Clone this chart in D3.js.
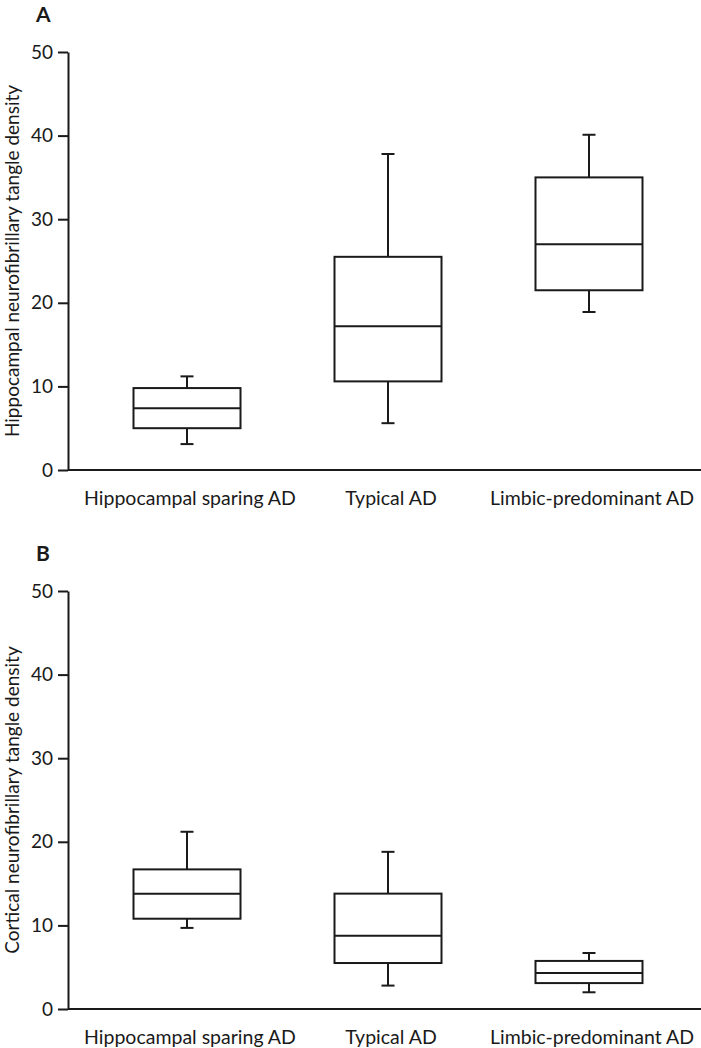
<!DOCTYPE html>
<meta charset="utf-8">
<head>
	<script src="https://d3js.org/d3.v7.min.js"></script>
	<style>
		body { margin: 0; background: #fff; }
		text { font-family: Lato, "Open Sans", sans-serif; fill: #1a1a1a; }
		.box rect, .box line { stroke: #1a1a1a; stroke-width: 2; fill: none; }
	</style>
</head>
<body>
<div id="chart"></div>
<script>
	'use strict';
	// groups on the x axis
	var groups = ["Hippocampal sparing AD", "Typical AD", "Limbic-predominant AD"];
	var yTicks = [0, 10, 20, 30, 40, 50];

	// panel A: hippocampal tangle density (whisker low, q1, median, q3, whisker high)
	var hippoLow    = [3.1, 5.6, 18.9];
	var hippoQ1     = [5.0, 10.6, 21.5];
	var hippoMedian = [7.4, 17.2, 27.0];
	var hippoQ3     = [9.8, 25.5, 35.0];
	var hippoHigh   = [11.2, 37.8, 40.1];

	// panel B: cortical tangle density
	var cortLow    = [9.7, 2.8, 2.0];
	var cortQ1     = [10.8, 5.5, 3.1];
	var cortMedian = [13.8, 8.75, 4.3];
	var cortQ3     = [16.7, 13.8, 5.75];
	var cortHigh   = [21.2, 18.8, 6.7];

	var panels = [
		{ label: "A", title: "Hippocampal neurofibrillary tangle density", top: 0,
		  low: hippoLow, q1: hippoQ1, med: hippoMedian, q3: hippoQ3, high: hippoHigh },
		{ label: "B", title: "Cortical neurofibrillary tangle density", top: 539,
		  low: cortLow, q1: cortQ1, med: cortMedian, q3: cortQ3, high: cortHigh }
	];

	var W = 701, H = 1048;
	var margin = { left: 68, top: 52 };
	var innerW = W - margin.left;
	var innerH = 418;
	var boxW = 107, capW = 13;

	var svg = d3.select("#chart").append("svg")
		.attr("width", W).attr("height", H);

	var x = d3.scalePoint().domain(groups).range([119, 521]);
	var y = d3.scaleLinear().domain([0, 50]).range([innerH, 0]);

	panels.forEach(function(p) {
		var g = svg.append("g")
			.attr("transform", "translate(" + margin.left + "," + (p.top + margin.top) + ")");

		// panel letter
		svg.append("text")
			.attr("x", 36).attr("y", p.top + 21.5)
			.style("font-size", "21px").style("font-weight", "bold")
			.text(p.label);

		// y axis
		var yAxis = g.append("g")
			.call(d3.axisLeft(y).tickValues(yTicks).tickSize(10).tickPadding(5).tickSizeOuter(0));
		yAxis.selectAll("path, line").attr("stroke", "#1a1a1a").attr("stroke-width", 2);
		yAxis.selectAll("text").style("font-size", "19px").style("font-family", "Lato, sans-serif").attr("fill", "#1a1a1a");

		// x axis line
		g.append("line")
			.attr("x1", 0).attr("x2", innerW)
			.attr("y1", innerH).attr("y2", innerH)
			.attr("stroke", "#1a1a1a").attr("stroke-width", 2);

		// x labels
		g.selectAll(".xlab").data(groups).enter().append("text")
			.attr("class", "xlab")
			.attr("x", function(d) { return x(d) + 3; })
			.attr("y", innerH + 35)
			.attr("text-anchor", "middle")
			.style("font-size", "19.5px")
			.text(function(d) { return d; });

		// y title
		g.append("text")
			.attr("transform", "translate(" + (-49) + "," + (innerH / 2) + ") rotate(-90)")
			.attr("text-anchor", "middle")
			.style("font-size", "19px")
			.text(p.title);

		// boxes
		var boxes = g.selectAll(".box").data(groups).enter().append("g")
			.attr("class", "box");

		boxes.append("line")
			.attr("x1", function(d) { return x(d); })
			.attr("x2", function(d) { return x(d); })
			.attr("y1", function(d, i) { return y(p.high[i]); })
			.attr("y2", function(d, i) { return y(p.q3[i]); });
		boxes.append("line")
			.attr("x1", function(d) { return x(d); })
			.attr("x2", function(d) { return x(d); })
			.attr("y1", function(d, i) { return y(p.q1[i]); })
			.attr("y2", function(d, i) { return y(p.low[i]); });
		boxes.append("line")
			.attr("x1", function(d) { return x(d) - capW / 2; })
			.attr("x2", function(d) { return x(d) + capW / 2; })
			.attr("y1", function(d, i) { return y(p.high[i]); })
			.attr("y2", function(d, i) { return y(p.high[i]); });
		boxes.append("line")
			.attr("x1", function(d) { return x(d) - capW / 2; })
			.attr("x2", function(d) { return x(d) + capW / 2; })
			.attr("y1", function(d, i) { return y(p.low[i]); })
			.attr("y2", function(d, i) { return y(p.low[i]); });
		boxes.append("rect")
			.attr("x", function(d) { return x(d) - boxW / 2; })
			.attr("width", boxW)
			.attr("y", function(d, i) { return y(p.q3[i]); })
			.attr("height", function(d, i) { return y(p.q1[i]) - y(p.q3[i]); })
			.style("fill", "#fff");
		boxes.append("line")
			.attr("x1", function(d) { return x(d) - boxW / 2; })
			.attr("x2", function(d) { return x(d) + boxW / 2; })
			.attr("y1", function(d, i) { return y(p.med[i]); })
			.attr("y2", function(d, i) { return y(p.med[i]); });
	});
</script>
</body>
